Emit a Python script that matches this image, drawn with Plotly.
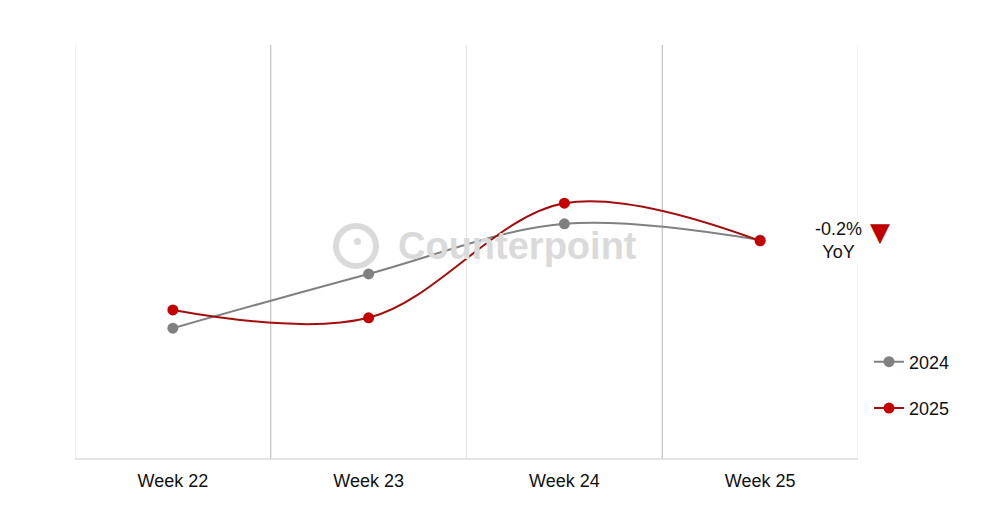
import plotly.graph_objects as go

weeks = ["Week 22", "Week 23", "Week 24", "Week 25"]
vals_2024 = [31.6, 44.7, 56.8, 52.9]
vals_2025 = [36.0, 34.1, 61.8, 52.7]
yoy_text = "-0.2%<br>YoY"

OFF = 8  # page body margin
W, H = 1000, 520
PL, PR, PT, PB = 75, 858, 45, 459  # target plot area in window pixels
L, R, T, B = PL - OFF, W + OFF - PR, PT - OFF, H + OFF - PB
pw, ph = PR - PL, PB - PT

def px(x):
    return (x - PL) / pw

def py(y):
    return (PB - y) / ph

fig = go.Figure()
fig.add_trace(go.Scatter(
    x=weeks, y=vals_2024, name="2024", mode="lines+markers",
    line=dict(color="#808080", width=2, shape="spline", smoothing=1.0),
    marker=dict(color="#808080", size=11), legendgroup="a"))
fig.add_trace(go.Scatter(
    x=weeks, y=vals_2025, name="2025", mode="lines+markers",
    line=dict(color="#a30d0d", width=2, shape="spline", smoothing=1.0),
    marker=dict(color="#c40000", size=11), legendgroup="b"))

shapes = []
grid_colors = ["#e3e3e3", "#b5b5b5", "#e3e3e3", "#b5b5b5", "#e3e3e3"]
for i, c in enumerate(grid_colors):
    shapes.append(dict(type="line", xref="x", yref="paper", x0=i - 0.5, x1=i - 0.5,
                       y0=0, y1=1, line=dict(color=c, width=1), layer="below"))
shapes.append(dict(type="line", xref="paper", yref="paper", x0=0, x1=1, y0=0, y1=0,
                   line=dict(color="#dcdcdc", width=1.5), layer="below"))
# watermark logo
shapes.append(dict(type="circle", xref="paper", yref="paper",
                   x0=px(336), x1=px(376), y0=py(266), y1=py(226),
                   line=dict(color="#dadada", width=6), layer="below"))
shapes.append(dict(type="circle", xref="paper", yref="paper",
                   x0=px(354), x1=px(361), y0=py(245), y1=py(238),
                   fillcolor="#dadada", line=dict(width=0), layer="below"))

annotations = [
    dict(text="Counterpoint", xref="paper", yref="paper", x=px(517), y=py(246),
         xanchor="center", yanchor="middle", showarrow=False,
         font=dict(family="Arial, Liberation Sans", size=38, color="#dadada", weight="bold")),
    dict(text=yoy_text, xref="paper", yref="paper", x=px(838), y=py(240),
         xanchor="center", yanchor="middle", showarrow=False, bgcolor="white",
         font=dict(family="Arial, Liberation Sans", size=18, color="#111111")),
    dict(text="▼", xref="paper", yref="paper", x=px(880), y=py(232),
         xanchor="center", yanchor="middle", showarrow=False,
         font=dict(family="DejaVu Sans", size=26, color="#c00000")),
]

fig.update_layout(
    width=W, height=H,
    margin=dict(l=L, r=R, t=T, b=B),
    paper_bgcolor="white", plot_bgcolor="white",
    font=dict(family="Arial, Liberation Sans", size=18, color="#111111"),
    xaxis=dict(range=[-0.5, 3.5], showgrid=False, zeroline=False, showline=False,
               ticks="", ticklabelstandoff=9, tickfont=dict(size=18, color="#111111")),
    yaxis=dict(range=[0, 100], showgrid=False, zeroline=False, showline=False,
               showticklabels=False, ticks=""),
    legend=dict(x=px(869), xanchor="left", y=py(385), yanchor="middle",
                tracegroupgap=20, font=dict(size=18, color="#111111"),
                bgcolor="rgba(0,0,0,0)"),
    shapes=shapes, annotations=annotations,
)

fig.write_html("out.html")
